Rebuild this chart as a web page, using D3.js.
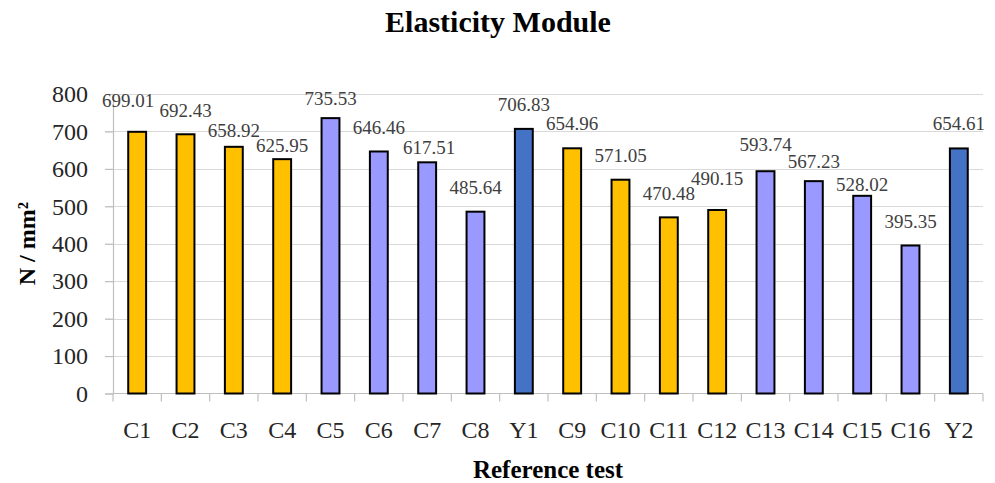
<!DOCTYPE html>
<html>
<head>
<meta charset="utf-8">
<script src="https://cdn.jsdelivr.net/npm/d3@7"></script>
<style>
    body { margin: 0; background: #fff; }
    svg { display: block; font-family: "Palatino Linotype", "Book Antiqua", Palatino, "Liberation Serif", serif; }
</style>
</head>
<body>
<div class="chart"></div>
<script>
const categories = ['C1', 'C2', 'C3', 'C4', 'C5', 'C6', 'C7', 'C8', 'Y1', 'C9', 'C10', 'C11', 'C12', 'C13', 'C14', 'C15', 'C16', 'Y2']
const values = [699.01, 692.43, 658.92, 625.95, 735.53, 646.46, 617.51, 485.64, 706.83, 654.96, 571.05, 470.48, 490.15, 593.74, 567.23, 528.02, 395.35, 654.61]
const groups = ['A', 'A', 'A', 'A', 'B', 'B', 'B', 'B', 'Y', 'A', 'A', 'A', 'A', 'B', 'B', 'B', 'B', 'Y']
const yTicks = [0, 100, 200, 300, 400, 500, 600, 700, 800]

// hand-placed data labels in the original, nudges in px [dx, dy]
const labelNudge = [[-9, -7], [0, 1], [0, 8], [0, 11], [0, 5], [0, 1], [2, 10], [0, 0], [0, 0],
    [0, 0], [0, 0], [0, 1], [0, -7], [0, -2], [0, 5], [0, 13], [0, 1], [0, 0]]

const w = 995
const h = 483
const margin = { top: 94, right: 12, bottom: 89.5, left: 113 }

const color = d3.scaleOrdinal()
    .domain(['A', 'B', 'Y'])
    .range(['#FFC000', '#9999FF', '#4472C4'])

const x = d3.scaleBand()
    .domain(categories)
    .range([margin.left, w - margin.right])
const y = d3.scaleLinear()
    .domain([0, 800])
    .range([h - margin.bottom, margin.top])

const barW = x.bandwidth() * 0.37

const svg = d3.select('.chart')
    .append('svg')
    .attr('width', w)
    .attr('height', h)

svg.append('text')
    .attr('x', w / 2 + 0.5)
    .attr('y', 32)
    .attr('text-anchor', 'middle')
    .attr('font-size', 30)
    .attr('font-weight', 'bold')
    .attr('fill', '#000')
    .text('Elasticity Module')

// gridlines
svg.append('g')
    .selectAll('line')
    .data(yTicks.filter(d => d > 0))
    .enter()
    .append('line')
    .attr('x1', margin.left - 8)
    .attr('x2', w - margin.right)
    .attr('y1', d => Math.round(y(d)) + 0.5)
    .attr('y2', d => Math.round(y(d)) + 0.5)
    .attr('stroke', '#d9d9d9')
    .attr('stroke-width', 1.2)

// y axis
const yAxis = svg.append('g')
    .attr('transform', `translate(${margin.left},0)`)
    .call(d3.axisLeft(y).tickValues(yTicks).tickSize(8).tickPadding(17))
    .attr('font-family', null)
    .attr('font-size', null)
yAxis.select('.domain').attr('stroke', '#bfbfbf').attr('stroke-width', 1.2)
yAxis.selectAll('.tick line').attr('stroke', '#bfbfbf').attr('stroke-width', 1.2)
yAxis.selectAll('.tick text')
    .attr('font-size', 24)
    .attr('fill', '#262626')

// x axis, ticks sit between categories
const xAxis = svg.append('g')
    .attr('transform', `translate(0,${y(0)})`)
xAxis.append('line')
    .attr('x1', margin.left)
    .attr('x2', w - margin.right)
    .attr('stroke', '#bfbfbf')
    .attr('stroke-width', 1.2)
xAxis.selectAll('line.tick')
    .data(categories.concat(['end']))
    .enter()
    .append('line')
    .attr('class', 'tick')
    .attr('x1', (d, i) => margin.left + i * x.step())
    .attr('x2', (d, i) => margin.left + i * x.step())
    .attr('y1', 0)
    .attr('y2', 8)
    .attr('stroke', '#bfbfbf')
    .attr('stroke-width', 1.2)
xAxis.selectAll('text')
    .data(categories)
    .enter()
    .append('text')
    .attr('x', d => x(d) + x.bandwidth() / 2)
    .attr('y', 44.5)
    .attr('text-anchor', 'middle')
    .attr('font-size', 24)
    .attr('fill', '#262626')
    .text(d => d)

// bars
svg.append('g')
    .selectAll('rect')
    .data(values)
    .enter()
    .append('rect')
    .attr('x', (d, i) => x(categories[i]) + (x.bandwidth() - barW) / 2)
    .attr('y', d => y(d))
    .attr('width', barW)
    .attr('height', d => y(0) - y(d))
    .attr('fill', (d, i) => color(groups[i]))
    .attr('stroke', '#000')
    .attr('stroke-width', 2)

// data labels
svg.append('g')
    .selectAll('text')
    .data(values)
    .enter()
    .append('text')
    .attr('x', (d, i) => x(categories[i]) + x.bandwidth() / 2 + labelNudge[i][0])
    .attr('y', (d, i) => y(d) - 18 + labelNudge[i][1])
    .attr('text-anchor', 'middle')
    .attr('font-size', 19)
    .attr('fill', '#404040')
    .text(d => d.toFixed(2))

// axis titles
svg.append('text')
    .attr('x', (margin.left + w - margin.right) / 2)
    .attr('y', 478)
    .attr('text-anchor', 'middle')
    .attr('font-size', 25)
    .attr('font-weight', 'bold')
    .attr('fill', '#000')
    .text('Reference test')

svg.append('text')
    .attr('transform', `translate(35,${(margin.top + y(0)) / 2}) rotate(-90)`)
    .attr('text-anchor', 'middle')
    .attr('font-size', 24)
    .attr('font-weight', 'bold')
    .attr('fill', '#000')
    .text('N / mm\u00b2')
</script>
</body>
</html>
